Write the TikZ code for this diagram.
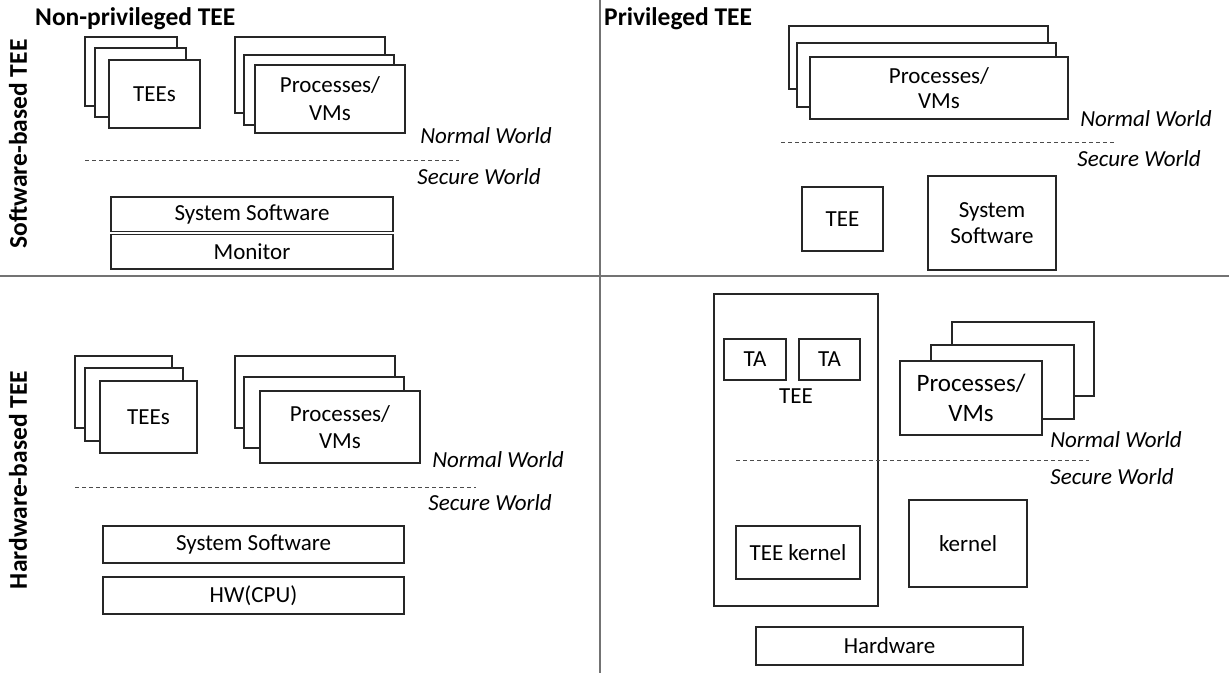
\documentclass[tikz,border=0pt]{standalone}
\usepackage{fontspec}
\setmainfont{Carlito}

% text sizes (1 unit = 1pt)
\newcommand\txtreg{\fontsize{23}{27}\selectfont}
\newcommand\txtbig{\fontsize{25}{30}\selectfont}
\newcommand\txtit{\fontsize{23}{27}\selectfont\itshape}
\newcommand\txtbold{\fontsize{25.5}{30}\selectfont\bfseries}

% rectangle given by its corners: [options]{x1}{y1}{x2}{y2}{name}{text}
\newcommand\rbox[7][]{%
  \node[frame,#1,minimum width={#4-#2},minimum height={#5-#3}] (#6)
    at ({(#2+#4)/2},{(#3+#5)/2}) {#7};}

\tikzset{
  frame/.style={draw=black!85, line width=1.2pt, fill=white, inner sep=0pt,
    align=center, font=\txtreg},
  hollow/.style={fill=none},
  world/.style={font=\txtit, inner sep=0pt},
  heading/.style={font=\txtbold, inner sep=0pt},
  divider/.style={draw=black!55, line width=1.5pt},
  border/.style={draw=black!70, line width=0.9pt, dash pattern=on 4pt off 3pt},
}

\begin{document}
\begin{tikzpicture}[x=1pt,y=-1pt]
\useasboundingbox[fill=white] (0,0) rectangle (1229,673);

% quadrant dividers
\coordinate (hl) at (0,276);   \coordinate (hr) at (1229,276);
\coordinate (vt) at (600,0);   \coordinate (vb) at (600,673);
\draw[divider] (hl) -- (hr);
\draw[divider] (vt) -- (vb);

% headings
\node[heading,anchor=base west] (hnp) at (35,25) {Non-privileged TEE};
\node[heading,anchor=base west] (hp) at (604,25) {Privileged TEE};
\node[heading,anchor=base,rotate=90] (hsw) at (27,144) {Software-based TEE};
\node[heading,anchor=base,rotate=90] (hhw) at (27,480) {Hardware-based TEE};

% ---------- software-based, non-privileged ----------
\rbox{85}{37}{177}{106}{atb}{}
\rbox{95}{48}{186}{117}{atm}{}
\rbox{109}{60}{200}{128}{atf}{TEEs}
\rbox{235}{37}{385}{113}{apb}{}
\rbox{244}{55}{394}{125}{apm}{}
\rbox[font=\fontsize{23}{28}\selectfont]{255}{65}{405}{133}{apf}{Processes/\\VMs}
\node[world] (anw) at (486,136) {Normal World};
\coordinate (ad1) at (85,160); \coordinate (ad2) at (459,160);
\draw[border] (ad1) -- (ad2);
\node[world] (asw) at (479,177) {Secure World};
\rbox{111}{197}{393}{231.5}{ass}{System Software}
\rbox{111}{234.5}{393}{269}{amon}{Monitor}

% ---------- software-based, privileged ----------
\rbox{789}{26}{1048}{89}{bpb}{}
\rbox{797}{43}{1056}{107}{bpm}{}
\rbox[font=\fontsize{23}{25}\selectfont]{810}{57}{1068}{119}{bpf}{Processes/\\VMs}
\node[world] (bnw) at (1146,119) {Normal World};
\coordinate (bd1) at (781,142); \coordinate (bd2) at (1115,142);
\draw[border] (bd1) -- (bd2);
\node[world] (bsw) at (1139,159) {Secure World};
\rbox{802}{187}{883}{251}{btee}{TEE}
\rbox[font=\fontsize{23}{26}\selectfont]{928}{176}{1056}{270}{bss}{System\\Software}

% ---------- hardware-based, non-privileged ----------
\rbox{75}{356}{172}{428}{ctb}{}
\rbox{85}{368}{183}{441}{ctm}{}
\rbox{100}{381}{197}{453}{ctf}{TEEs}
\rbox{235}{356}{395}{428}{cpb}{}
\rbox{244}{377}{404}{448}{cpm}{}
\rbox{260}{391}{420}{463}{cpf}{Processes/\\VMs}
\node[world] (cnw) at (498,460) {Normal World};
\coordinate (cd1) at (75,487); \coordinate (cd2) at (476,487);
\draw[border] (cd1) -- (cd2);
\node[world] (csw) at (490,503) {Secure World};
\rbox{103}{526}{404}{563}{css}{System Software}
\rbox{103}{577}{404}{614}{ccpu}{HW(CPU)}

% ---------- hardware-based, privileged ----------
\rbox[hollow]{714}{294}{878}{606}{dtee}{}
\rbox{724}{339}{786}{380}{dta1}{TA}
\rbox{799}{339}{860}{380}{dta2}{TA}
\node[font=\txtreg,inner sep=0pt] (dteel) at (796,396) {TEE};
\rbox{736}{526}{860}{579}{dtk}{TEE kernel}
\rbox{952}{322}{1094}{396}{dpb}{}
\rbox{931}{345}{1074}{419}{dpm}{}
\rbox[font=\txtbig]{900}{361}{1042}{435}{dpf}{Processes/\\VMs}
\node[world] (dnw) at (1116,440) {Normal World};
\coordinate (dd1) at (736,460); \coordinate (dd2) at (1089,460);
\draw[border] (dd1) -- (dd2);
\node[world] (dsw) at (1112,477) {Secure World};
\rbox{909}{500}{1027}{587}{dk}{kernel}
\rbox{756}{627}{1023}{665}{dhw}{Hardware}
\end{tikzpicture}
\end{document}
